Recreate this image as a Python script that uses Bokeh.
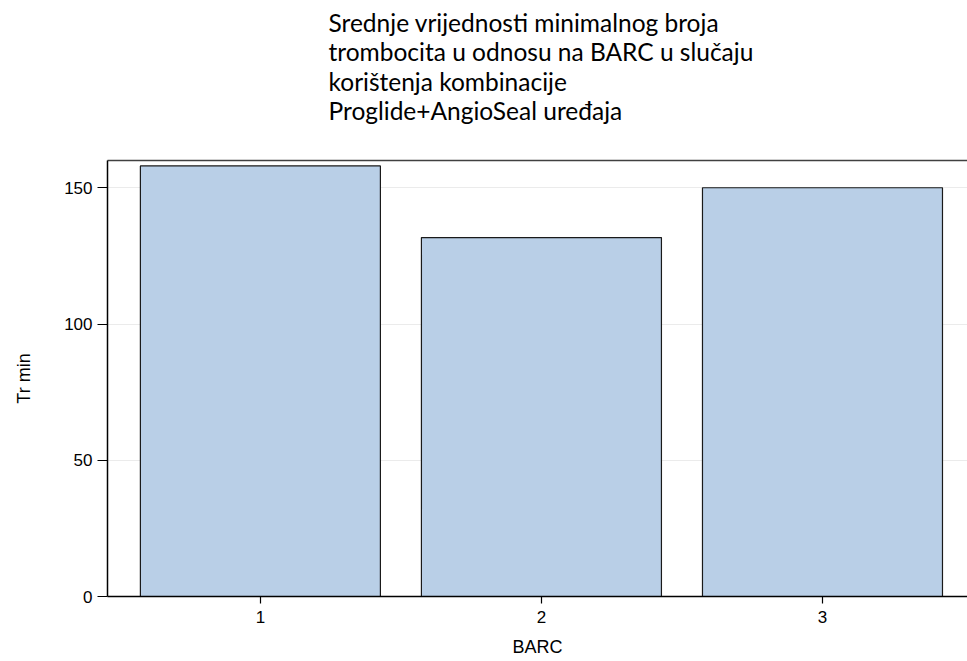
from bokeh.plotting import figure
from bokeh.models import Range1d, FixedTicker, Title, LinearAxis
from bokeh.embed import file_html
from bokeh.resources import INLINE

categories = [1, 2, 3]
tr_min = [158.0, 131.7, 150.0]
y_ticks = [0, 50, 100, 150]
title_lines = [
    "Srednje vrijednosti minimalnog broja",
    "trombocita u odnosu na BARC u slučaju",
    "korištenja kombinacije",
    "Proglide+AngioSeal uređaja",
]

p = figure(width=967, height=661, output_backend="svg", toolbar_location=None,
           x_range=Range1d(0.456, 3.516), y_range=Range1d(0, 160),
           min_border_left=107, min_border_right=0, min_border_bottom=65, min_border_top=0)

p.vbar(x=categories, top=tr_min, width=0.854, fill_color="#b9cfe7",
       line_color="#1a1a1a", line_width=1.2)

# trailing newline leaves an empty line of space between title and frame
p.title = Title(text="\n".join(title_lines) + "\n", text_font="Lato", text_font_size="24.5px",
                text_font_style="normal", text_color="#000000", align="left",
                offset=221, text_line_height=1.02, standoff=11)

p.outline_line_color = None
top_axis = LinearAxis(ticker=FixedTicker(ticks=[]), axis_line_color="#404040",
                      axis_line_width=1.5, major_tick_out=0, major_tick_in=0,
                      major_tick_line_color=None, minor_tick_line_color=None,
                      major_label_standoff=0)
p.add_layout(top_axis, "above")

xax = p.below[0]
yax = p.left[0]
xax.ticker = FixedTicker(ticks=categories)
yax.ticker = FixedTicker(ticks=y_ticks)
xax.axis_label = "BARC"
yax.axis_label = "Tr min"
for ax in (xax, yax):
    ax.axis_line_color = "#000000"
    ax.axis_line_width = 1.5
    ax.major_tick_line_color = "#000000"
    ax.major_tick_line_width = 1.2
    ax.minor_tick_line_color = None
    ax.major_label_text_font = "Liberation Sans"
    ax.major_label_text_font_size = "17px"
    ax.major_label_text_color = "#000000"
    ax.axis_label_text_font = "Liberation Sans"
    ax.axis_label_text_font_size = "18px"
    ax.axis_label_text_font_style = "normal"
    ax.axis_label_text_color = "#000000"
xax.major_tick_out = 7
xax.major_tick_in = 0
yax.major_tick_out = 10
yax.major_tick_in = 0
xax.major_label_standoff = 7
yax.major_label_standoff = 5
xax.axis_label_standoff = 11
yax.axis_label_standoff = 27
yax.major_label_orientation = "horizontal"

p.xgrid.grid_line_color = None
p.ygrid.grid_line_color = "#ebebeb"
p.ygrid.grid_line_width = 1.2

open("out.html", "w").write(file_html(p, INLINE))
